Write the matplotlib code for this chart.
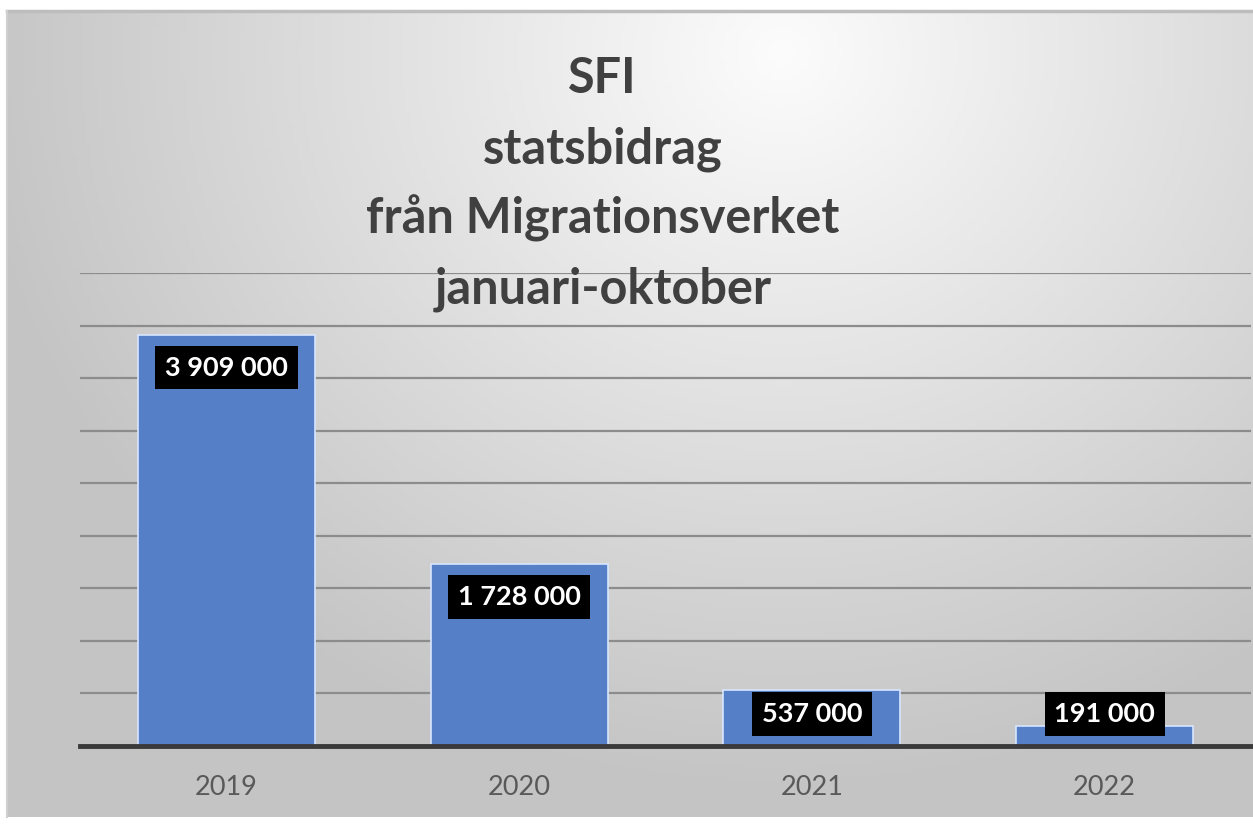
import numpy as np
import matplotlib
matplotlib.use("Agg")
import matplotlib.pyplot as plt
from matplotlib.ticker import MultipleLocator

years = ["2019", "2020", "2021", "2022"]
values = [3909000, 1728000, 537000, 191000]
value_labels = ["3 909 000", "1 728 000", "537 000", "191 000"]
title_lines = ["SFI", "statsbidrag", "från Migrationsverket", "januari-oktober"]

W, H = 1253, 827
fig = plt.figure(figsize=(W / 100, H / 100), dpi=100)
fig.patch.set_facecolor("white")

# background panel with radial gradient
fl, fb, ft = 7 / W, 1 - 817 / H, 1 - 11 / H
bg = fig.add_axes([fl, fb, 1 - fl, ft - fb])
bg.set_axis_off()
ny, nx = 200, 300
yy, xx = np.mgrid[0:ny, 0:nx]
cx, cy = 0.62 * nx, 0.05 * ny
r = np.sqrt(((xx - cx) / (0.75 * nx)) ** 2 + ((yy - cy) / (1.05 * ny)) ** 2)
g = np.clip(252 - 64 * r, 196, 252) / 255.0
img = np.dstack([g, g, g])
bg.imshow(img, aspect="auto", extent=[0, 1, 0, 1], origin="upper")
bg.set_xlim(0, 1)
bg.set_ylim(0, 1)
bg.plot([0, 1], [1, 1], color="#bdbdbd", lw=2.5, transform=bg.transAxes, clip_on=False)
bg.plot([0, 0], [0, 1], color="#cfcfcf", lw=1.5, transform=bg.transAxes, clip_on=False)

ax = fig.add_axes([80 / W, 1 - 746 / H, (1251 - 80) / W, (746 - 273) / H])
ax.patch.set_alpha(0)
x = np.arange(len(years))
ax.bar(x, values, width=0.605, color="#5580C8", edgecolor="#d8e6ff", linewidth=1.2, zorder=3)
ax.set_xlim(-0.5, len(years) - 0.5)
ax.set_ylim(0, 4500000)
ax.yaxis.set_major_locator(MultipleLocator(500000))
ax.grid(axis="y", color="#8c8c8c", lw=1.6, zorder=0)
ax.set_axisbelow(True)
for s in ["top", "right", "left"]:
    ax.spines[s].set_visible(False)
ax.spines["bottom"].set_color("#3a3a3a")
ax.spines["bottom"].set_linewidth(3.5)
ax.spines["bottom"].set_zorder(4)
ax.set_yticks(np.arange(0, 4500001, 500000))
ax.set_yticklabels([])
ax.tick_params(axis="y", length=0)
ax.set_xticks(x)
ax.set_xticklabels(years, fontsize=19.5, color="#595959", family="Lato")
ax.tick_params(axis="x", length=0, pad=21)

for xi, v, lab in zip(x, values, value_labels):
    yl = max(v - 310000, 305000)
    ax.text(xi, yl, lab, ha="center", va="center", fontsize=19.5, fontweight="bold",
            color="white", family="Lato", zorder=5,
            bbox=dict(boxstyle="square,pad=0.36", fc="black", ec="none"))

ys = [1 - 93 / H, 1 - 163 / H, 1 - 233 / H, 1 - 303 / H]
for t, yv in zip(title_lines, ys):
    fig.text(0.481, yv, t, ha="center", va="baseline", fontsize=35, fontweight="bold",
             color="#404040", family="Lato", zorder=10)

fig.savefig("out.png", dpi=100)
